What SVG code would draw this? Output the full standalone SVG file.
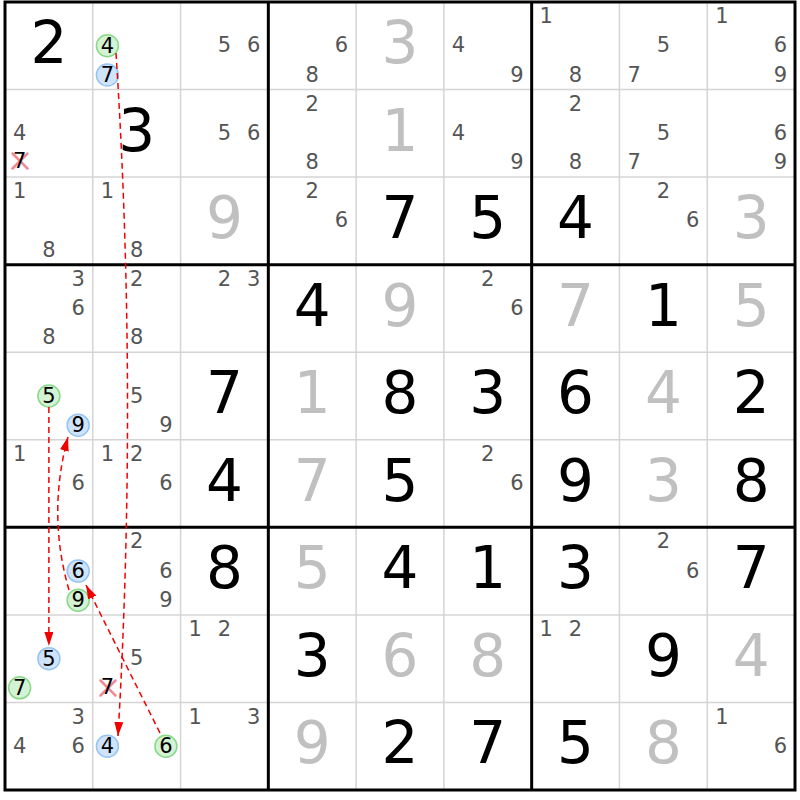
<svg xmlns="http://www.w3.org/2000/svg" width="800" height="800" viewBox="0 0 800 800">
<style>
text{font-family:"DejaVu Sans","Verdana",sans-serif;text-anchor:middle}
.g{font-size:58px;fill:#000}
.s{font-size:58px;fill:#c0c0c0}
.c{font-size:21px;fill:#555}
.k{font-size:21px;fill:#000}
.thin{stroke:#d4d4d4;stroke-width:1.5}
.thick{stroke:#000;stroke-width:3}
.cg{fill:#d4f2d4;stroke:#88d888;stroke-width:1.5}
.cb{fill:#cfe4fb;stroke:#96c4f2;stroke-width:1.5}
.x{stroke:#f08a96;stroke-width:2.5;stroke-linecap:round}
.arr{fill:none;stroke:#f00000;stroke-width:1.5;stroke-dasharray:6 4;marker-end:url(#ah)}
</style>
<defs>
<marker id="ah" markerUnits="userSpaceOnUse" markerWidth="14" markerHeight="9" refX="14" refY="4.5" orient="auto">
<path d="M0,0 L14,4.5 L0,9 z" fill="#f00000"/>
</marker>
</defs>
<rect width="800" height="800" fill="#fff"/>
<g id="grid">
<g class="thin">
<line x1="92.78" y1="2" x2="92.78" y2="790"/><line x1="180.56" y1="2" x2="180.56" y2="790"/>
<line x1="356.11" y1="2" x2="356.11" y2="790"/><line x1="443.89" y1="2" x2="443.89" y2="790"/>
<line x1="619.44" y1="2" x2="619.44" y2="790"/><line x1="707.22" y1="2" x2="707.22" y2="790"/>
<line x1="5" y1="89.56" x2="795" y2="89.56"/><line x1="5" y1="177.11" x2="795" y2="177.11"/>
<line x1="5" y1="352.22" x2="795" y2="352.22"/><line x1="5" y1="439.78" x2="795" y2="439.78"/>
<line x1="5" y1="614.89" x2="795" y2="614.89"/><line x1="5" y1="702.44" x2="795" y2="702.44"/>
</g>
<g class="thick">
<line x1="268.33" y1="2" x2="268.33" y2="790"/><line x1="531.67" y1="2" x2="531.67" y2="790"/>
<line x1="5" y1="264.67" x2="795" y2="264.67"/><line x1="5" y1="527.33" x2="795" y2="527.33"/>
<rect x="5" y="2" width="790" height="788" fill="none"/>
</g>
</g>
<g id="r0c0"><text class="g" x="48.89" y="63">2</text></g>
<g id="r0c1"><circle class="cg" cx="107.41" cy="45.78" r="11"/><text class="k" x="107.41" y="52.8">4</text><circle class="cb" cx="107.41" cy="74.96" r="11"/><text class="k" x="107.41" y="82">7</text></g>
<g id="r0c2"><text class="c" x="224.45" y="52.3">5</text><text class="c" x="253.71" y="52.3">6</text></g>
<g id="r0c3"><text class="c" x="341.48" y="52.3">6</text><text class="c" x="312.22" y="81.5">8</text></g>
<g id="r0c4"><text class="s" x="400" y="63">3</text></g>
<g id="r0c5"><text class="c" x="458.52" y="52.3">4</text><text class="c" x="517.04" y="81.5">9</text></g>
<g id="r0c6"><text class="c" x="546.3" y="23.1">1</text><text class="c" x="575.56" y="81.5">8</text></g>
<g id="r0c7"><text class="c" x="663.33" y="52.3">5</text><text class="c" x="634.07" y="81.5">7</text></g>
<g id="r0c8"><text class="c" x="721.85" y="23.1">1</text><text class="c" x="780.37" y="52.3">6</text><text class="c" x="780.37" y="81.5">9</text></g>

<g id="r1c0"><text class="c" x="19.63" y="139.8">4</text><line class="x" x1="12.5" y1="153.5" x2="27.5" y2="168.5"/><line class="x" x1="27.5" y1="153.5" x2="12.5" y2="168.5"/><text class="k" x="19.63" y="167.5">7</text></g>
<g id="r1c1"><text class="g" x="136.67" y="150.6">3</text></g>
<g id="r1c2"><text class="c" x="224.45" y="139.8">5</text><text class="c" x="253.71" y="139.8">6</text></g>
<g id="r1c3"><text class="c" x="312.22" y="110.7">2</text><text class="c" x="312.22" y="169">8</text></g>
<g id="r1c4"><text class="s" x="400" y="150.6">1</text></g>
<g id="r1c5"><text class="c" x="458.52" y="139.8">4</text><text class="c" x="517.04" y="169">9</text></g>
<g id="r1c6"><text class="c" x="575.56" y="110.7">2</text><text class="c" x="575.56" y="169">8</text></g>
<g id="r1c7"><text class="c" x="663.33" y="139.8">5</text><text class="c" x="634.07" y="169">7</text></g>
<g id="r1c8"><text class="c" x="780.37" y="139.8">6</text><text class="c" x="780.37" y="169">9</text></g>

<g id="r2c0"><text class="c" x="19.63" y="198.2">1</text><text class="c" x="48.89" y="256.6">8</text></g>
<g id="r2c1"><text class="c" x="107.41" y="198.2">1</text><text class="c" x="136.67" y="256.6">8</text></g>
<g id="r2c2"><text class="s" x="224.45" y="238.1">9</text></g>
<g id="r2c3"><text class="c" x="312.22" y="198.2">2</text><text class="c" x="341.48" y="227.4">6</text></g>
<g id="r2c4"><text class="g" x="400" y="238.1">7</text></g>
<g id="r2c5"><text class="g" x="487.78" y="238.1">5</text></g>
<g id="r2c6"><text class="g" x="575.56" y="238.1">4</text></g>
<g id="r2c7"><text class="c" x="663.33" y="198.2">2</text><text class="c" x="692.59" y="227.4">6</text></g>
<g id="r2c8"><text class="s" x="751.11" y="238.1">3</text></g>

<g id="r3c0"><text class="c" x="78.15" y="285.8">3</text><text class="c" x="78.15" y="315">6</text><text class="c" x="48.89" y="344.1">8</text></g>
<g id="r3c1"><text class="c" x="136.67" y="285.8">2</text><text class="c" x="136.67" y="344.1">8</text></g>
<g id="r3c2"><text class="c" x="224.45" y="285.8">2</text><text class="c" x="253.71" y="285.8">3</text></g>
<g id="r3c3"><text class="g" x="312.22" y="325.7">4</text></g>
<g id="r3c4"><text class="s" x="400" y="325.7">9</text></g>
<g id="r3c5"><text class="c" x="487.78" y="285.8">2</text><text class="c" x="517.04" y="315">6</text></g>
<g id="r3c6"><text class="s" x="575.56" y="325.7">7</text></g>
<g id="r3c7"><text class="g" x="663.33" y="325.7">1</text></g>
<g id="r3c8"><text class="s" x="751.11" y="325.7">5</text></g>

<g id="r4c0"><circle class="cg" cx="48.89" cy="396" r="11"/><text class="k" x="48.89" y="403">5</text><circle class="cb" cx="78.15" cy="425.18" r="11"/><text class="k" x="78.15" y="432.2">9</text></g>
<g id="r4c1"><text class="c" x="136.67" y="402.5">5</text><text class="c" x="165.93" y="431.7">9</text></g>
<g id="r4c2"><text class="g" x="224.45" y="413.2">7</text></g>
<g id="r4c3"><text class="s" x="312.22" y="413.2">1</text></g>
<g id="r4c4"><text class="g" x="400" y="413.2">8</text></g>
<g id="r4c5"><text class="g" x="487.78" y="413.2">3</text></g>
<g id="r4c6"><text class="g" x="575.56" y="413.2">6</text></g>
<g id="r4c7"><text class="s" x="663.33" y="413.2">4</text></g>
<g id="r4c8"><text class="g" x="751.11" y="413.2">2</text></g>

<g id="r5c0"><text class="c" x="19.63" y="460.9">1</text><text class="c" x="78.15" y="490.1">6</text></g>
<g id="r5c1"><text class="c" x="107.41" y="460.9">1</text><text class="c" x="136.67" y="460.9">2</text><text class="c" x="165.93" y="490.1">6</text></g>
<g id="r5c2"><text class="g" x="224.45" y="500.8">4</text></g>
<g id="r5c3"><text class="s" x="312.22" y="500.8">7</text></g>
<g id="r5c4"><text class="g" x="400" y="500.8">5</text></g>
<g id="r5c5"><text class="c" x="487.78" y="460.9">2</text><text class="c" x="517.04" y="490.1">6</text></g>
<g id="r5c6"><text class="g" x="575.56" y="500.8">9</text></g>
<g id="r5c7"><text class="s" x="663.33" y="500.8">3</text></g>
<g id="r5c8"><text class="g" x="751.11" y="500.8">8</text></g>

<g id="r6c0"><circle class="cb" cx="78.15" cy="571.11" r="11"/><text class="k" x="78.15" y="578.1">6</text><circle class="cg" cx="78.15" cy="600.29" r="11"/><text class="k" x="78.15" y="607.3">9</text></g>
<g id="r6c1"><text class="c" x="136.67" y="548.4">2</text><text class="c" x="165.93" y="577.6">6</text><text class="c" x="165.93" y="606.8">9</text></g>
<g id="r6c2"><text class="g" x="224.45" y="588.3">8</text></g>
<g id="r6c3"><text class="s" x="312.22" y="588.3">5</text></g>
<g id="r6c4"><text class="g" x="400" y="588.3">4</text></g>
<g id="r6c5"><text class="g" x="487.78" y="588.3">1</text></g>
<g id="r6c6"><text class="g" x="575.56" y="588.3">3</text></g>
<g id="r6c7"><text class="c" x="663.33" y="548.4">2</text><text class="c" x="692.59" y="577.6">6</text></g>
<g id="r6c8"><text class="g" x="751.11" y="588.3">7</text></g>

<g id="r7c0"><circle class="cb" cx="48.89" cy="658.67" r="11"/><text class="k" x="48.89" y="665.7">5</text><circle class="cg" cx="19.63" cy="687.85" r="11"/><text class="k" x="19.63" y="694.9">7</text></g>
<g id="r7c1"><text class="c" x="136.67" y="665.2">5</text><line class="x" x1="100.5" y1="680.5" x2="115.5" y2="695.5"/><line class="x" x1="115.5" y1="680.5" x2="100.5" y2="695.5"/><text class="k" x="107.41" y="694.4">7</text></g>
<g id="r7c2"><text class="c" x="195.19" y="636">1</text><text class="c" x="224.45" y="636">2</text></g>
<g id="r7c3"><text class="g" x="312.22" y="675.9">3</text></g>
<g id="r7c4"><text class="s" x="400" y="675.9">6</text></g>
<g id="r7c5"><text class="s" x="487.78" y="675.9">8</text></g>
<g id="r7c6"><text class="c" x="546.3" y="636">1</text><text class="c" x="575.56" y="636">2</text></g>
<g id="r7c7"><text class="g" x="663.33" y="675.9">9</text></g>
<g id="r7c8"><text class="s" x="751.11" y="675.9">4</text></g>

<g id="r8c0"><text class="c" x="78.15" y="723.5">3</text><text class="c" x="19.63" y="752.7">4</text><text class="c" x="78.15" y="752.7">6</text></g>
<g id="r8c1"><circle class="cb" cx="107.41" cy="746.22" r="11"/><text class="k" x="107.41" y="753.2">4</text><circle class="cg" cx="165.93" cy="746.22" r="11"/><text class="k" x="165.93" y="753.2">6</text></g>
<g id="r8c2"><text class="c" x="195.19" y="723.5">1</text><text class="c" x="253.71" y="723.5">3</text></g>
<g id="r8c3"><text class="s" x="312.22" y="763.4">9</text></g>
<g id="r8c4"><text class="g" x="400" y="763.4">2</text></g>
<g id="r8c5"><text class="g" x="487.78" y="763.4">7</text></g>
<g id="r8c6"><text class="g" x="575.56" y="763.4">5</text></g>
<g id="r8c7"><text class="s" x="663.33" y="763.4">8</text></g>
<g id="r8c8"><text class="c" x="721.85" y="723.5">1</text><text class="c" x="780.37" y="752.7">6</text></g>

<g id="connectors">
<path class="arr" d="M116,53 Q138,395 118,736"/>
<path class="arr" d="M48.89,407 L48.89,646"/>
<path class="arr" d="M69,590 Q47,514 68,437"/>
<path class="arr" d="M160,733 L86,585"/>
</g>
</svg>
